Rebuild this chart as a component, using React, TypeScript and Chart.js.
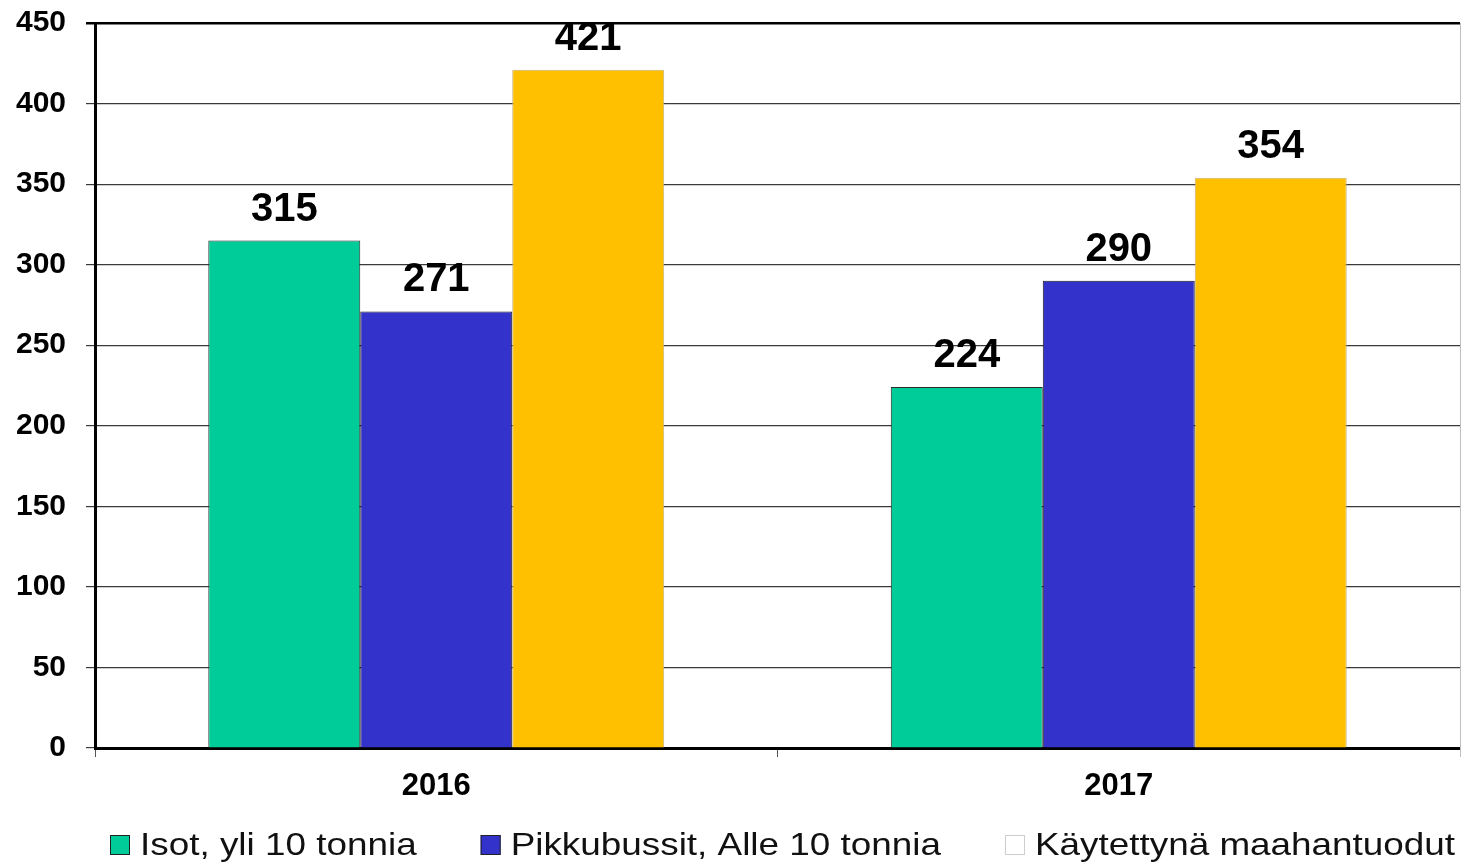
import React, { useEffect, useRef } from "react";
import { Chart, registerables } from "chart.js";

Chart.register(...registerables);

const categories = ["2016", "2017"];
const seriesNames = ["Isot, yli 10 tonnia", "Pikkubussit, Alle 10 tonnia", "Käytettynä maahantuodut"];
const isot = [315, 224];
const pikkubussit = [271, 290];
const kaytettyna = [421, 354];
const yTicks = [0, 50, 100, 150, 200, 250, 300, 350, 400, 450];

const FONT = '"Liberation Sans", Arial, Helvetica, sans-serif';
const barColors = ["#00CC99", "#3333CC", "#FFC000"];
const barBorders = ["#2a2a2a", "#1a1a1a", "#c9b27a"];
const legendSwatches = ["#00CC99", "#3333CC", "#FFFFFF"];
const legendSwatchBorders = ["#222222", "#222222", "#cccccc"];

const valueLabelsPlugin = {
  id: "valueLabels",
  afterDatasetsDraw(chart: any) {
    const ctx = chart.ctx;
    ctx.save();
    ctx.font = `bold 40px ${FONT}`;
    ctx.fillStyle = "#000";
    ctx.textAlign = "center";
    ctx.textBaseline = "alphabetic";
    chart.data.datasets.forEach((ds: any, di: number) => {
      const meta = chart.getDatasetMeta(di);
      meta.data.forEach((el: any, i: number) => {
        ctx.fillText(String(ds.data[i]), el.x, el.y - 20);
      });
    });
    ctx.restore();
  },
};

const frameAndLegendPlugin = {
  id: "frameAndLegend",
  afterDraw(chart: any) {
    const ctx = chart.ctx;
    const area = chart.chartArea;
    ctx.save();
    ctx.strokeStyle = "#c0c0c0";
    ctx.lineWidth = 1;
    ctx.beginPath();
    ctx.moveTo(area.right + 0.5, area.top);
    ctx.lineTo(area.right + 0.5, area.bottom + 9);
    ctx.stroke();

    // legend
    const stretch = 1.152;
    ctx.font = `32px ${FONT}`;
    ctx.textBaseline = "alphabetic";
    ctx.textAlign = "left";
    let x = 110;
    const boxTop = 835;
    const box = 20;
    seriesNames.forEach((name, i) => {
      ctx.fillStyle = legendSwatches[i];
      ctx.fillRect(x, boxTop, box, box);
      ctx.strokeStyle = legendSwatchBorders[i];
      ctx.lineWidth = 1;
      ctx.strokeRect(x + 0.5, boxTop + 0.5, box - 1, box - 1);
      ctx.fillStyle = "#111";
      const tx = x + 30;
      ctx.save();
      ctx.translate(tx, 855);
      ctx.scale(stretch, 1);
      ctx.fillText(name, 0, 0);
      ctx.restore();
      x = tx + ctx.measureText(name).width * stretch + 64;
    });
    ctx.restore();
  },
};

export default function App() {
  const ref = useRef<HTMLCanvasElement | null>(null);

  useEffect(() => {
    if (!ref.current) return;
    const chart = new Chart(ref.current, {
      type: "bar",
      data: {
        labels: categories,
        datasets: [isot, pikkubussit, kaytettyna].map((d, i) => ({
          label: seriesNames[i],
          data: d,
          backgroundColor: barColors[i],
          borderColor: barBorders[i],
          borderWidth: 1,
          categoryPercentage: 0.668,
          barPercentage: 1,
        })),
      },
      options: {
        responsive: false,
        animation: false,
        layout: { padding: { top: 23, right: 2, left: 0, bottom: 0 } },
        plugins: {
          legend: { display: false },
          tooltip: { enabled: false },
          title: { display: false },
        },
        scales: {
          x: {
            afterFit(scale: any) {
              scale.height = 116;
              scale.paddingLeft = 0;
              scale.paddingRight = 0;
            },
            grid: {
              offset: true,
              drawOnChartArea: false,
              drawTicks: true,
              tickLength: 9,
              color: (c: any) => (c.index === 2 ? "#c0c0c0" : "#555"),
              lineWidth: 1,
            },
            border: { display: true, color: "#000", width: 3 },
            ticks: {
              color: "#000",
              padding: 11,
              font: { family: FONT, size: 31, weight: "bold" },
            },
          },
          y: {
            min: 0,
            max: 450,
            afterFit(scale: any) {
              scale.width = 95;
              scale.paddingTop = 0;
              scale.paddingBottom = 0;
            },
            afterBuildTicks(scale: any) {
              scale.ticks = yTicks.map((v) => ({ value: v }));
            },
            grid: {
              drawTicks: true,
              tickLength: 9,
              color: (c: any) => (c.tick && c.tick.value === 450 ? "#000" : "#3a3a3a"),
              lineWidth: (c: any) => (c.tick && c.tick.value === 450 ? 2.5 : 1.2),
            },
            border: { display: true, color: "#000", width: 3 },
            ticks: {
              color: "#000",
              padding: 20,
              font: { family: FONT, size: 30, weight: "bold" },
            },
          },
        },
      },
      plugins: [valueLabelsPlugin, frameAndLegendPlugin],
    });
    return () => chart.destroy();
  }, []);

  return (
    <div style={{ position: "absolute", left: 0, top: 0, width: 1462, height: 864, background: "#fff" }}>
      <canvas ref={ref} width={1462} height={864} />
    </div>
  );
}
